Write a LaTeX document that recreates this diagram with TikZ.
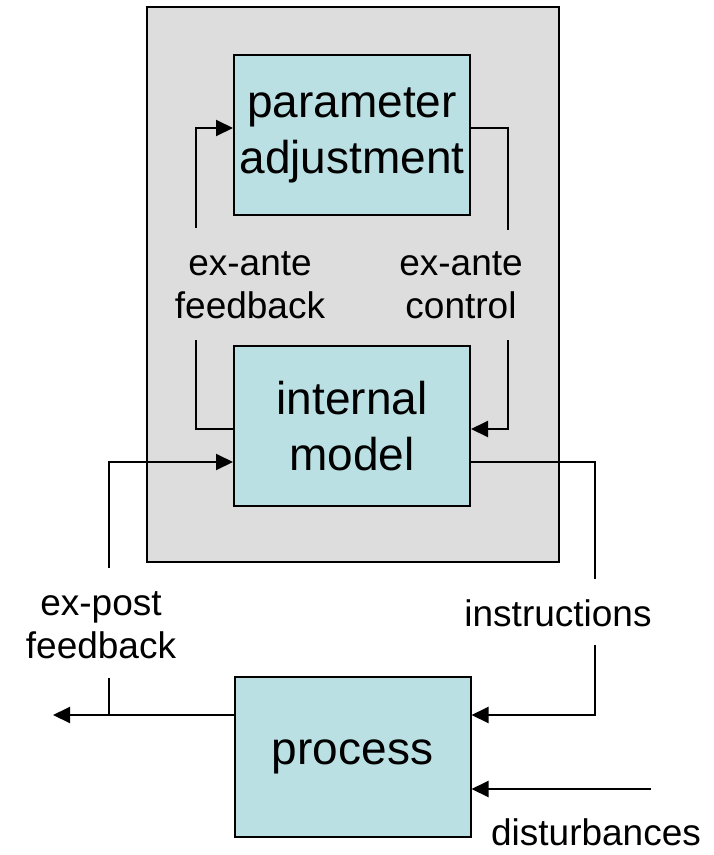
\documentclass[tikz,border=0pt]{standalone}
\usepackage{fontspec}
\setmainfont{Liberation Sans}
\usetikzlibrary{arrows.meta}
\definecolor{blockfill}{RGB}{187,224,228}
\definecolor{ctrlfill}{RGB}{221,221,221}
\begin{document}
\begin{tikzpicture}[x=1pt, y=-1pt, line width=2pt,
    block/.style={draw, fill=blockfill, minimum width=236pt, minimum height=160pt, align=center, font=\fontsize{46}{56}\selectfont},
    lbl/.style={align=center, font=\fontsize{37}{43}\selectfont},
    arr/.style={-{Triangle[length=17pt,width=16pt]}}]
  \useasboundingbox (0,0) rectangle (713,855);
  \node[draw, fill=ctrlfill, minimum width=412pt, minimum height=555pt] (ctrl) at (353,284.5) {};
  \node[block] (param) at (352,135) {parameter\\adjustment};
  \node[block] (model) at (352,426) {internal\\model};
  \node[block] (process) at (352.5,757) {process};

  \node[lbl] (exante fb) at (250,285) {ex-ante\\feedback};
  \node[lbl] (exante ctl) at (461,285) {ex-ante\\control};
  \node[lbl] (expost fb) at (101,625) {ex-post\\feedback};
  \node[lbl] (instr) at (558,613) {instructions};
  \node[lbl] (dist) at (596,832) {disturbances};

  \coordinate (fb up) at (196,228);
  \coordinate (fb down) at (196,340);
  \coordinate (ctl up) at (508,230);
  \coordinate (ctl down) at (508,340);
  \coordinate (post up) at (109,568);
  \coordinate (post down) at (109,678);
  \coordinate (instr up) at (595,579);
  \coordinate (instr down) at (595,645);
  \coordinate (out end) at (53,715);
  \coordinate (dist start) at (651,789);

  \draw[arr] (fb up) |- ([yshift=7pt]param.west);
  \draw (fb down) |- ([yshift=-3pt]model.west);
  \draw ([yshift=7pt]param.east) -| (ctl up);
  \draw[arr] (ctl down) |- ([yshift=-3pt]model.east);
  \draw[arr] (post up) |- ([yshift=-36pt]model.west);
  \draw ([yshift=-36pt]model.east) -| (instr up);
  \draw[arr] (instr down) |- ([yshift=42pt]process.east);
  \draw[arr] ([yshift=42pt]process.west) -- (out end);
  \draw (post down) -- (post down |- out end);
  \draw[arr] (dist start) -- ([yshift=-32pt]process.east);
\end{tikzpicture}
\end{document}
